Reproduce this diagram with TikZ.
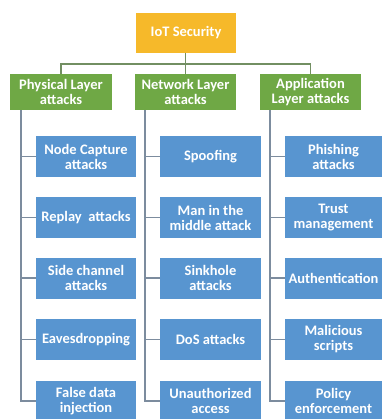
\documentclass[tikz,border=0pt]{standalone}
\usepackage{fontspec}
\setmainfont{Carlito}
\begin{document}
\begin{tikzpicture}[x=1pt,y=-1pt,
  every node/.style={inner sep=0pt,outer sep=0pt},
  boxbase/.style={rectangle,draw=none,text=white,align=center,
    font=\bfseries\fontsize{14.5}{15}\selectfont},
  rootbox/.style={boxbase,fill=rootorange,minimum width=100pt,minimum height=40pt},
  layerbox/.style={boxbase,fill=layergreen,minimum width=101pt,minimum height=36pt},
  attackbox/.style={boxbase,fill=attackblue,minimum width=100pt,minimum height=41pt},
  treeline/.style={draw=treegreen,line width=1.4pt},
  leafline/.style={draw=leafgray,line width=1.4pt}]
\definecolor{rootorange}{HTML}{F6B92A}
\definecolor{layergreen}{HTML}{6FA845}
\definecolor{attackblue}{HTML}{5895D0}
\definecolor{treegreen}{HTML}{728F62}
\definecolor{leafgray}{HTML}{7C8C9E}
\useasboundingbox (0,0) rectangle (382,419);
\clip (0,0) rectangle (382,419);
\fill[white] (0,0) rectangle (382,419);

% root
\node[rootbox] (root) at (186,33) {IoT Security};

% layers
\node[layerbox,minimum width=102pt] (phy) at (61,92) {Physical Layer\\attacks};
\node[layerbox] (net) at (185.5,92) {Network Layer\\attacks};
\node[layerbox] (app) at (310.5,92) {Application\\Layer attacks};

% root to layers
\coordinate (bus) at (185.5,64);
\draw[treeline] (root.south -| bus) -- (bus);
\draw[treeline] (phy.north) |- (bus) -| (app.north);
\draw[treeline] (bus) -- (net.north);

% physical layer attacks
\node[attackbox] (p1) at (86,156.5) {Node Capture\\attacks};
\node[attackbox] (p2) at (86,217.5) {Replay\ \ attacks};
\node[attackbox] (p3) at (86,278) {Side channel\\attacks};
\node[attackbox] (p4) at (86,339.5) {Eavesdropping};
\node[attackbox] (p5) at (86,401) {False data\\injection};

% network layer attacks
\node[attackbox,minimum width=101pt] (n1) at (210.5,156.5) {Spoofing};
\node[attackbox,minimum width=101pt] (n2) at (210.5,217.5) {Man in the\\middle attack};
\node[attackbox,minimum width=101pt] (n3) at (210.5,278) {Sinkhole\\attacks};
\node[attackbox,minimum width=101pt] (n4) at (210.5,339.5) {DoS attacks};
\node[attackbox,minimum width=101pt] (n5) at (210.5,401) {Unauthorized\\access};

% application layer attacks
\node[attackbox,minimum width=97pt] (a1) at (333.5,156.5) {Phishing\\attacks};
\node[attackbox,minimum width=97pt] (a2) at (333.5,217.5) {Trust\\management};
\node[attackbox,minimum width=97pt] (a3) at (333.5,278) {Authentication};
\node[attackbox,minimum width=97pt] (a4) at (333.5,339.5) {Malicious\\scripts};
\node[attackbox,minimum width=97pt] (a5) at (333.5,401) {Policy\\enforcement};

% spines
\coordinate (ps) at (21,110);
\coordinate (ns) at (145,110);
\coordinate (as) at (270,110);
\draw[leafline] (ps) |- (p5.west);
\draw[leafline] (ns) |- (n5.west);
\draw[leafline] (as) |- (a5.west);
\foreach \k in {1,...,4}{
  \draw[leafline] (p\k.west -| ps) -- (p\k.west);
  \draw[leafline] (n\k.west -| ns) -- (n\k.west);
  \draw[leafline] (a\k.west -| as) -- (a\k.west);
}
\end{tikzpicture}
\end{document}
